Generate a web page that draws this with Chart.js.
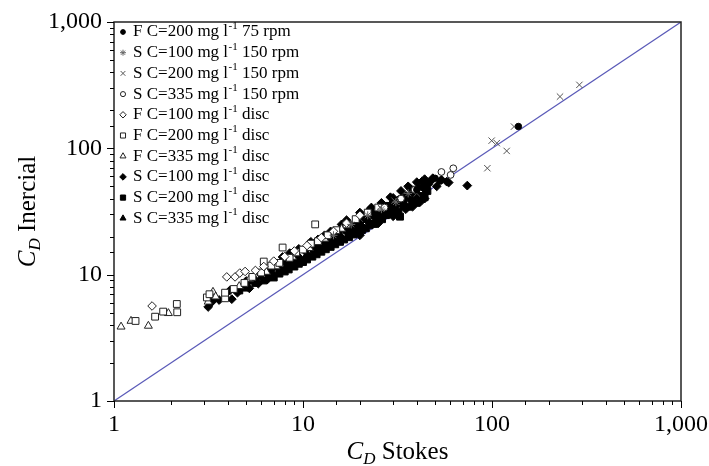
<!DOCTYPE html>
<html>
<head>
<meta charset="utf-8">
<title>CD Inercial vs CD Stokes</title>
<script src="https://cdn.jsdelivr.net/npm/chart.js@4.4.1/dist/chart.umd.min.js"></script>
<style>
  html, body { margin: 0; padding: 0; background: #fff; }
  #wrap { width: 709px; height: 466px; }
</style>
</head>
<body>
<div id="wrap"><canvas id="chart" width="709" height="466"></canvas></div>
<script>
// series values, [CD Stokes, CD Inercial]
const legendLabels = [
    'F C=200 mg l⁻¹ 75 rpm',
    'S C=100 mg l⁻¹ 150 rpm',
    'S C=200 mg l⁻¹ 150 rpm',
    'S C=335 mg l⁻¹ 150 rpm',
    'F C=100 mg l⁻¹ disc',
    'F C=200 mg l⁻¹ disc',
    'F C=335 mg l⁻¹ disc',
    'S C=100 mg l⁻¹ disc',
    'S C=200 mg l⁻¹ disc',
    'S C=335 mg l⁻¹ disc'
];

const fC200rpm75 = [[138, 149], [40, 47], [45, 51], [50, 58], [53, 55]];
const sC100rpm150 = [[14.5, 20.5], [18, 25], [22, 29.5], [26, 33], [31, 37.5], [36, 44]];
const sC200rpm150 = [[25.6, 34.2], [30.5, 38.5], [40, 44], [94.5, 69.6], [99.6, 115], [106, 110],
    [119.6, 95.4], [130.8, 148.6], [229, 256.7], [290, 318]];
const sC335rpm150 = [[54, 65], [60.4, 61.6], [62.4, 69.5], [27, 34], [33, 40], [39, 47]];
const fC100disc = [[1.59, 5.65], [3.95, 9.6], [4.37, 9.6], [4.63, 10.3], [4.94, 10.6], [5.6, 10.8],
    [6.2, 11.6], [7.0, 12.8], [8.0, 13.9], [9.0, 15.4], [10.5, 17.0], [12.5, 19.6], [14.5, 22.0],
    [17.0, 25.6], [20.0, 29.5]];
const fC200disc = [[1.30, 4.3], [1.65, 4.65], [1.82, 5.1], [2.15, 5.86], [2.16, 5.04], [3.1, 6.6],
    [3.2, 7.0], [3.87, 6.5], [3.87, 7.2], [4.3, 7.7], [4.9, 8.6], [5.4, 9.6], [6.2, 12.7], [6.0, 10.4],
    [6.8, 11.8], [7.8, 16.4], [7.5, 12.4], [8.5, 13.6], [9.2, 15.0], [10.0, 15.8], [11.0, 17.6],
    [11.6, 25.0], [12.0, 18.4], [13.5, 20.5], [15.0, 22.5], [17.0, 25.0], [19.0, 27.5], [22.0, 31.0],
    [25.0, 34.0]];
const fC335disc = [[1.09, 3.87], [1.23, 4.3], [1.52, 3.93], [1.94, 4.95], [3.15, 6.1], [3.34, 7.3],
    [3.45, 6.7], [4.6, 8.1], [5.2, 9.2], [6.4, 10.5], [7.2, 11.6], [8.8, 13.8], [10.8, 16.2],
    [13.0, 19.2], [16.0, 23.0]];
const sC100disc = [[3.15, 5.55], [3.3, 6.1], [3.6, 6.3], [4.1, 7.5], [4.2, 6.4], [4.5, 7.2], [4.8, 8.0],
    [5.0, 8.9], [5.2, 7.8], [5.5, 9.3], [5.8, 8.5], [6.0, 10.0], [6.3, 10.6], [6.5, 9.2], [6.8, 11.0],
    [7.0, 10.0], [7.3, 11.6], [7.6, 10.8], [7.8, 13.8], [8.0, 12.6], [8.2, 11.4], [8.5, 14.8], [8.6, 13.2],
    [9.0, 12.4], [9.3, 14.2], [9.5, 16.0], [9.7, 13.3], [10.2, 15.5], [10.6, 14.2], [10.8, 17.2],
    [11.0, 16.4], [11.0, 18.2], [11.5, 15.2], [12.0, 17.5], [12.0, 19.0], [12.5, 16.3], [13.0, 18.8],
    [13.0, 20.5], [13.5, 17.5], [14.0, 20.0], [14.0, 22.0], [14.6, 18.8], [15.2, 21.2], [15.8, 20.0],
    [16.0, 25.0], [16.5, 22.8], [17.0, 27.0], [17.2, 21.5], [18.0, 24.5], [18.7, 23.0], [19.5, 26.0],
    [20.0, 31.0], [20.0, 20.5], [20.3, 24.5], [21.0, 28.0], [22.0, 26.5], [22.5, 32.5], [23.0, 29.8],
    [23.0, 34.0], [24.0, 28.2], [25.0, 32.0], [25.0, 25.5], [26.0, 30.2], [26.0, 37.0], [27.2, 34.0],
    [28.5, 32.5], [29.0, 41.0], [29.5, 36.5], [30.0, 40.5], [30.0, 29.0], [31.0, 34.8], [32.0, 39.0],
    [33.0, 46.0], [33.5, 37.5], [35.0, 42.0], [35.0, 33.0], [36.0, 50.0], [36.5, 40.0], [37.0, 48.0],
    [38.0, 45.0], [38.0, 34.5], [40.0, 43.0], [40.0, 54.0], [41.0, 49.0], [42.0, 38.0], [42.5, 54.5],
    [44.0, 47.5], [44.0, 57.0], [44.0, 40.0], [46.0, 52.0], [48.0, 56.0], [48.6, 58.0], [51.0, 50.0],
    [54.0, 56.5], [57.6, 54.5], [59.0, 53.6], [74.0, 50.7]];
const sC200disc = [[4.6, 7.5], [5.0, 7.9], [5.6, 8.6], [6.2, 9.0], [6.6, 9.6], [7.0, 9.5], [7.5, 10.2],
    [8.0, 10.6], [8.4, 11.0], [9.0, 11.6], [9.0, 12.8], [9.5, 12.2], [10.0, 12.6], [10.5, 13.2],
    [11.2, 13.9], [11.8, 14.5], [12.0, 16.0], [12.5, 15.2], [13.2, 15.9], [14.0, 16.6], [14.8, 17.4],
    [15.0, 19.5], [15.7, 18.2], [16.5, 19.0], [17.5, 19.8], [18.5, 20.8], [19.0, 24.0], [19.5, 21.6],
    [20.5, 22.6], [21.5, 23.3], [22.5, 24.6], [23.8, 25.2], [24.0, 30.0], [25.0, 27.0], [26.2, 27.5],
    [27.5, 29.6], [28.0, 35.0], [29.0, 30.0], [30.5, 32.0], [32.0, 31.5], [32.6, 28.8], [34.0, 35.0],
    [34.0, 40.0], [36.0, 34.5], [38.0, 39.0], [39.0, 47.0], [40.0, 37.0], [42.0, 42.0], [44.0, 41.0],
    [45.5, 46.0]];
const sC335disc = [[3.3, 6.4], [5.3, 8.8], [6.0, 9.5], [6.8, 10.2], [7.6, 11.2], [8.5, 12.0], [9.4, 13.0],
    [10.4, 14.0], [11.5, 15.5], [12.8, 17.0], [14.2, 18.5], [15.8, 20.5], [17.5, 22.5], [19.5, 24.5],
    [21.8, 27.0], [24.0, 29.5], [26.5, 32.0], [29.0, 35.0], [32.0, 38.0], [35.5, 41.5], [39.0, 46.0],
    [43.0, 50.0]];

const parityLine = [[1, 1], [1000, 1000]];

const serif = "'Liberation Serif', 'Times New Roman', serif";

const toXY = arr => arr.map(([x, y]) => ({ x: x, y: y }));

// marker look for each series, same order as the legend
const looks = [
    { data: fC200rpm75, style: 'circle', r: 3.2, fill: '#000', stroke: '#000' },
    { data: sC100rpm150, style: 'star', r: 4, fill: '#666', stroke: '#666' },
    { data: sC200rpm150, style: 'crossRot', r: 4.5, fill: '#555', stroke: '#555' },
    { data: sC335rpm150, style: 'circle', r: 3.4, fill: '#fff', stroke: '#222' },
    { data: fC100disc, style: 'rectRot', r: 4.3, fill: '#fff', stroke: '#222' },
    { data: fC200disc, style: 'rect', r: 4.8, fill: '#fff', stroke: '#222' },
    { data: fC335disc, style: 'triangle', r: 4.6, fill: '#fff', stroke: '#222' },
    { data: sC100disc, style: 'rectRot', r: 4.4, fill: '#000', stroke: '#000' },
    { data: sC200disc, style: 'rect', r: 4.9, fill: '#000', stroke: '#000' },
    { data: sC335disc, style: 'triangle', r: 4.6, fill: '#000', stroke: '#000' }
];

const datasets = looks.map((s, i) => ({
    label: legendLabels[i],
    data: toXY(s.data),
    pointStyle: s.style,
    pointRadius: s.r,
    pointHoverRadius: s.r,
    pointBackgroundColor: s.fill,
    pointBorderColor: s.stroke,
    pointBorderWidth: 1
}));

datasets.push({
    type: 'line',
    label: 'y = x',
    data: toXY(parityLine),
    borderColor: '#5a5ab8',
    borderWidth: 1.2,
    pointRadius: 0,
    fill: false,
    order: 10,
    skipLegend: true
});

const isDecade = v => {
    const l = Math.log10(v);
    return Math.abs(l - Math.round(l)) < 1e-6;
};
const tickText = v => isDecade(v) ? Number(v).toLocaleString('en-US') : '';

// frame, minor/major tick marks, axis titles and inside legend
const decorations = {
    id: 'decorations',
    afterDraw(chart) {
        const ctx = chart.ctx;
        const a = chart.chartArea;
        const xs = chart.scales.x, ys = chart.scales.y;
        ctx.save();

        ctx.strokeStyle = '#222';
        ctx.lineWidth = 1.5;
        ctx.strokeRect(a.left, a.top, a.right - a.left, a.bottom - a.top);

        ctx.lineWidth = 1;
        ctx.strokeStyle = '#000';
        ctx.beginPath();
        ys.ticks.forEach(t => {
            const p = Math.round(ys.getPixelForValue(t.value)) + 0.5;
            const len = isDecade(t.value) ? 7 : 4;
            ctx.moveTo(a.left - len, p);
            ctx.lineTo(a.left, p);
        });
        xs.ticks.forEach(t => {
            const p = Math.round(xs.getPixelForValue(t.value)) + 0.5;
            const len = isDecade(t.value) ? 7 : 4;
            ctx.moveTo(p, a.bottom);
            ctx.lineTo(p, a.bottom + len);
        });
        ctx.stroke();

        // axis titles: italic C with subscript D
        ctx.fillStyle = '#000';
        ctx.textBaseline = 'alphabetic';
        const drawTitle = (rest) => {
            ctx.font = 'italic 25px ' + serif;
            const wC = ctx.measureText('C').width;
            ctx.font = 'italic 17px ' + serif;
            const wD = ctx.measureText('D').width;
            ctx.font = '25px ' + serif;
            const wR = ctx.measureText(rest).width;
            let x = -(wC + wD + wR) / 2;
            ctx.font = 'italic 25px ' + serif;
            ctx.textAlign = 'left';
            ctx.fillText('C', x, 0);
            x += wC;
            ctx.font = 'italic 17px ' + serif;
            ctx.fillText('D', x, 5);
            x += wD;
            ctx.font = '25px ' + serif;
            ctx.fillText(rest, x, 0);
        };
        ctx.save();
        ctx.translate((a.left + a.right) / 2, 459);
        drawTitle(' Stokes');
        ctx.restore();
        ctx.save();
        ctx.translate(35, (a.top + a.bottom) / 2);
        ctx.rotate(-Math.PI / 2);
        drawTitle(' Inercial');
        ctx.restore();

        // legend inside the plot
        let y = a.top + 10;
        chart.data.datasets.forEach(ds => {
            if (ds.skipLegend) return;
            ctx.fillStyle = ds.pointBackgroundColor;
            ctx.strokeStyle = ds.pointBorderColor;
            const opts = { pointStyle: ds.pointStyle, radius: ds.pointRadius * 0.75, rotation: 0, borderWidth: 1 };
            if (Chart.helpers && Chart.helpers.drawPoint) {
                Chart.helpers.drawPoint(ctx, opts, a.left + 9, y);
            }
            ctx.fillStyle = '#000';
            ctx.textAlign = 'left';
            ctx.textBaseline = 'middle';
            const parts = ds.label.split('⁻¹');
            let x = a.left + 19;
            ctx.font = '17px ' + serif;
            ctx.fillText(parts[0], x, y);
            x += ctx.measureText(parts[0]).width + 0.5;
            ctx.font = '11px ' + serif;
            ctx.fillText('-1', x, y - 6);
            x += ctx.measureText('-1').width;
            ctx.font = '17px ' + serif;
            ctx.fillText(parts[1], x, y);
            y += 20.7;
        });
        ctx.restore();
    }
};

new Chart(document.getElementById('chart'), {
    type: 'scatter',
    data: { datasets: datasets },
    options: {
        responsive: false,
        devicePixelRatio: 1,
        animation: false,
        layout: { padding: { left: 0, top: 22, right: 28, bottom: 0 } },
        plugins: { legend: { display: false }, tooltip: { enabled: false } },
        scales: {
            x: {
                type: 'logarithmic', min: 1, max: 1000,
                afterFit(s) { s.height = 65; s.paddingLeft = 0; s.paddingRight = 0; },
                grid: { display: false, drawTicks: false },
                border: { display: false },
                ticks: { autoSkip: false, maxRotation: 0, padding: 9, color: '#000',
                    font: { family: serif, size: 24 }, callback: tickText }
            },
            y: {
                type: 'logarithmic', min: 1, max: 1000,
                afterFit(s) { s.width = 114; s.paddingTop = 0; s.paddingBottom = 0; },
                grid: { display: false, drawTicks: false },
                border: { display: false },
                ticks: { autoSkip: false, padding: 12, color: '#000',
                    font: { family: serif, size: 24 }, callback: tickText }
            }
        }
    },
    plugins: [decorations]
});
</script>
</body>
</html>
